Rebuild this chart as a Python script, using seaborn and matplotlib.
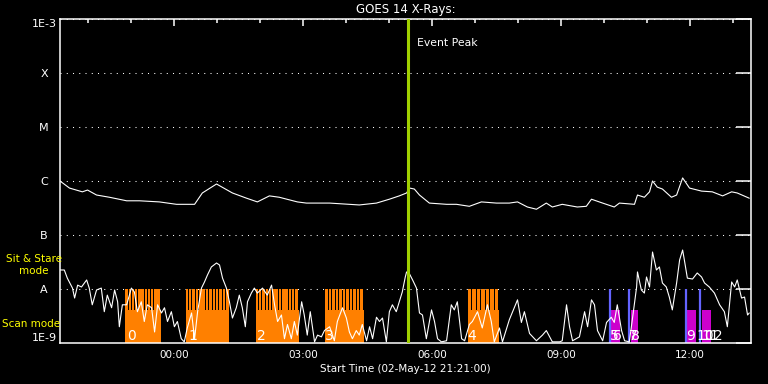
import numpy as np
import pandas as pd
import matplotlib
matplotlib.use("Agg")
import matplotlib.pyplot as plt
from matplotlib.ticker import FixedLocator, NullLocator
import seaborn as sns

# hours relative to 00:00 on 03-May-12 (window starts 21:21 the day before)
t_start = -2.65
t_end = 13.42

# GOES 14 long-channel flux (upper trace), W/m^2
goes_t = [-2.65, -2.43, -2.13, -2.01, -1.80, -1.50, -1.10, -0.80, -0.34, 0.06,
          0.48, 0.66, 0.99, 1.36, 1.69, 1.94, 2.22, 2.45, 2.87, 3.08,
          3.62, 4.31, 4.71, 5.01, 5.24, 5.41, 5.48, 5.59, 5.71, 5.94,
          6.34, 6.57, 6.87, 7.15, 7.50, 7.80, 7.99, 8.22, 8.43, 8.66,
          8.80, 9.03, 9.38, 9.59, 9.71, 9.97, 10.24, 10.36, 10.71, 10.78,
          10.94, 11.06, 11.13, 11.24, 11.36, 11.57, 11.69, 11.83, 11.99, 12.27,
          12.52, 12.76, 12.97, 13.10, 13.38]
goes_flux_e7 = [10.0, 7.4, 6.3, 6.8, 5.5, 5.0, 4.3, 4.3, 4.1, 3.7,
                3.7, 6.0, 8.8, 6.0, 4.8, 4.1, 5.3, 5.0, 4.1, 3.9,
                3.9, 3.6, 3.9, 4.6, 5.3, 6.0, 7.4, 7.1, 5.5, 3.9,
                3.7, 3.7, 3.4, 4.1, 3.9, 3.9, 4.1, 3.3, 3.0, 3.9,
                3.3, 3.7, 3.3, 3.4, 4.6, 3.9, 3.3, 3.9, 3.7, 5.5,
                5.0, 6.3, 10.0, 7.7, 7.1, 5.0, 5.5, 11.4, 7.4, 6.5,
                6.3, 5.3, 6.3, 6.0, 4.8]

# lower (scaled) trace
low_t = [-2.65, -2.55, -2.48, -2.36, -2.31, -2.24, -2.15, -2.03, -1.97, -1.90,
         -1.80, -1.69, -1.62, -1.55, -1.45, -1.38, -1.31, -1.27, -1.20, -1.10,
         -0.99, -0.92, -0.85, -0.76, -0.69, -0.62, -0.52, -0.45, -0.38, -0.29,
         -0.22, -0.15, -0.06, 0.01, 0.08, 0.17, 0.24, 0.31, 0.41, 0.48,
         0.55, 0.64, 0.71, 0.78, 0.87, 0.99, 1.06, 1.13, 1.22, 1.29,
         1.36, 1.45, 1.52, 1.59, 1.66, 1.71, 1.80, 1.87, 1.94, 2.06,
         2.17, 2.27, 2.34, 2.41, 2.50, 2.57, 2.64, 2.73, 2.80, 2.87,
         2.97, 3.03, 3.10, 3.17, 3.27, 3.34, 3.43, 3.50, 3.62, 3.73,
         3.80, 3.92, 4.01, 4.08, 4.15, 4.24, 4.31, 4.38, 4.48, 4.55,
         4.62, 4.71, 4.78, 4.85, 4.94, 5.01, 5.08, 5.17, 5.24, 5.31,
         5.38, 5.41, 5.48, 5.55, 5.64, 5.71, 5.78, 5.87, 5.99, 6.06,
         6.13, 6.22, 6.34, 6.45, 6.52, 6.59, 6.69, 6.76, 6.87, 6.94,
         7.06, 7.17, 7.29, 7.38, 7.45, 7.57, 7.64, 7.80, 7.92, 7.99,
         8.08, 8.15, 8.27, 8.43, 8.57, 8.66, 8.80, 8.97, 9.03, 9.13,
         9.20, 9.27, 9.43, 9.55, 9.62, 9.71, 9.78, 9.85, 9.97, 10.06,
         10.17, 10.24, 10.31, 10.41, 10.48, 10.59, 10.66, 10.76, 10.78, 10.87,
         10.94, 10.99, 11.06, 11.13, 11.22, 11.29, 11.36, 11.45, 11.52, 11.59,
         11.69, 11.76, 11.83, 11.87, 11.94, 12.06, 12.17, 12.27, 12.34, 12.45,
         12.57, 12.69, 12.80, 12.87, 12.97, 13.04, 13.10, 13.20, 13.27, 13.34,
         13.38]
low_flux_e9 = [22.5, 22.5, 15.9, 10.4, 6.8, 11.8, 10.9, 14.7, 10.4, 5.1,
               9.6, 10.4, 3.8, 7.7, 4.5, 9.6, 5.8, 2.0, 5.1, 5.1,
               10.4, 8.8, 3.8, 5.8, 2.5, 5.1, 4.5, 1.6, 5.1, 3.6,
               4.5, 2.5, 3.8, 2.0, 2.5, 1.2, 1.05, 1.9, 3.6, 1.2,
               3.8, 10.4, 13.5, 18.2, 25.6, 30.3, 27.8, 15.9, 10.4, 5.8,
               2.9, 4.5, 7.7, 4.5, 2.0, 5.8, 8.4, 10.4, 8.4, 10.4,
               7.7, 11.8, 5.1, 2.5, 3.3, 1.2, 2.2, 1.2, 2.5, 1.4,
               5.8, 3.3, 1.4, 3.8, 1.05, 1.4, 1.3, 1.7, 2.0, 1.1,
               2.5, 4.5, 2.9, 1.6, 1.2, 1.7, 1.4, 2.2, 1.1, 2.0,
               1.2, 3.0, 2.5, 2.9, 1.05, 3.8, 5.1, 3.8, 5.8, 8.8,
               16.7, 20.7, 18.9, 14.7, 10.4, 3.6, 3.3, 1.2, 4.1, 2.5,
               1.2, 1.05, 1.1, 5.1, 4.1, 5.8, 1.2, 1.1, 2.2, 2.5,
               3.8, 1.9, 5.1, 2.5, 1.05, 1.9, 1.05, 2.7, 4.6, 6.3,
               2.4, 3.8, 1.5, 1.1, 1.4, 1.7, 1.05, 1.05, 1.1, 5.1,
               2.0, 1.1, 1.3, 3.8, 2.0, 6.3, 5.1, 1.7, 1.1, 2.4,
               3.0, 2.4, 5.1, 1.7, 1.1, 1.05, 2.7, 10.9, 20.7, 9.6,
               8.4, 16.7, 10.9, 48.4, 22.5, 25.6, 12.9, 10.9, 7.1, 4.1,
               12.9, 34.5, 52.7, 34.5, 15.9, 15.3, 19.8, 16.7, 12.9, 10.9,
               8.4, 5.1, 3.8, 2.0, 13.5, 10.9, 14.7, 6.8, 7.1, 3.3,
               3.6]

# scan mode rasters (orange) and sit & stare (magenta)
scan_start = [-1.13, 0.27, 1.90, 3.52, 6.83]
scan_end = [-0.31, 1.29, 2.90, 4.41, 7.57]
scan_steps = [11, 13, 13, 11, 7]
stare_start = [10.17, 10.62, 11.92, 12.27]
stare_end = [10.38, 10.80, 12.13, 12.48]
stare_mark = [10.15, 10.59, 11.90, 12.24]

obs_labels = ['0', '1', '2', '3', '4', '5', '6', '7', '8', '9', '10', '11', '12']
obs_label_t = [-1.10, 0.34, 1.92, 3.52, 6.83, 10.15, 10.20, 10.59, 10.64,
               11.90, 12.14, 12.27, 12.36]

event_t = 5.45

level_vals = [1e-9, 1e-8, 1e-7, 1e-6, 1e-5, 1e-4, 1e-3]
level_labels = ['1E-9', 'A', 'B', 'C', 'M', 'X', '1E-3']

major_hours = [0, 3, 6, 9, 12]
minor_hours = [-2, -1, 1, 2, 4, 5, 7, 8, 10, 11, 13]

sns.set_style("dark", {"axes.facecolor": "black", "figure.facecolor": "black",
                       "axes.edgecolor": "white", "text.color": "white",
                       "axes.labelcolor": "white", "xtick.color": "white",
                       "ytick.color": "white", "axes.grid": False})
plt.rcParams["font.family"] = ["DejaVu Sans"]

fig = plt.figure(figsize=(7.68, 3.84), dpi=100)
ax = fig.add_axes([60 / 768, 41 / 384, 691 / 768, 324 / 384])

goes_df = pd.DataFrame({"t": goes_t, "flux": np.array(goes_flux_e7) * 1e-7})
low_df = pd.DataFrame({"t": low_t, "flux": np.array(low_flux_e9) * 1e-9})

orange = "#ff8000"
solid_top = 4.1e-9
stripe_top = 1e-8

# scan blocks: solid base plus one tall stripe per raster step
for s, e, n in zip(scan_start, scan_end, scan_steps):
    ax.bar(s, solid_top - 1e-9, width=e - s, bottom=1e-9, align='edge',
           color=orange, linewidth=0, zorder=2)
    step = (e - s) / n
    lefts = s + step * np.arange(n)
    ax.bar(lefts, stripe_top - 1e-9, width=step * 0.74, bottom=1e-9,
           align='edge', color=orange, linewidth=0, zorder=2)

ax.bar(stare_start, solid_top - 1e-9,
       width=np.array(stare_end) - np.array(stare_start), bottom=1e-9,
       align='edge', color="#cc00cc", linewidth=0, zorder=2)
ax.vlines(stare_mark, 1e-9, 1e-8, color="#6464ff", lw=1.6, zorder=2)

sns.lineplot(data=low_df, x="t", y="flux", ax=ax, color="white", lw=0.8,
             estimator=None, sort=False, zorder=4)
sns.lineplot(data=goes_df, x="t", y="flux", ax=ax, color="white", lw=0.8,
             estimator=None, sort=False, zorder=4)

for lab, t in zip(obs_labels, obs_label_t):
    ax.text(t, 1.15e-9, lab, color="white", fontsize=10, ha='left',
            va='baseline', zorder=5)

ax.axvline(event_t, color="#a0d000", lw=2.2, zorder=6)
ax.annotate("Event Peak", (event_t, 3.6e-4), xytext=(6.5, 0),
            textcoords='offset points', color="white", fontsize=7.8,
            va='center', ha='left')

ax.set_yscale('log')
ax.set_ylim(1e-9, 1e-3)
ax.set_xlim(t_start, t_end)

ax.yaxis.set_major_locator(FixedLocator(level_vals))
ax.yaxis.set_minor_locator(NullLocator())
ax.set_yticklabels(level_labels)
for lab in ax.get_yticklabels():
    lab.set_ha('center')
    lab.set_fontsize(8)
    if lab.get_text() == '1E-3':
        lab.set_va('top')
    elif lab.get_text() == '1E-9':
        lab.set_va('bottom')

ax.xaxis.set_major_locator(FixedLocator(major_hours))
ax.xaxis.set_minor_locator(FixedLocator(minor_hours))
ax.set_xticklabels([f"{h % 24:02d}:00" for h in major_hours], fontsize=7.5)

ax.tick_params(axis='both', which='both', direction='in', top=True,
               right=True, colors='white', width=1.1)
ax.tick_params(axis='y', which='major', length=10.8, pad=11.5)
ax.tick_params(axis='x', which='major', length=5, pad=5)
ax.tick_params(axis='x', which='minor', length=3)

ax.grid(axis='y', which='major', color='white', lw=0.75,
        linestyle=(0, (1, 5)), zorder=1)
ax.set_axisbelow(True)

for sp in ax.spines.values():
    sp.set_color('white')
    sp.set_linewidth(1.1)

ax.set_xlabel("Start Time (02-May-12 21:21:00)", fontsize=7.5, labelpad=3)
ax.set_ylabel("")
ax.set_title("GOES 14 X-Rays:", fontsize=8.5, color="white", pad=4)

fig.text(34 / 768, 1 - 265 / 384, "Sit & Stare\nmode", color="yellow",
         fontsize=7.5, ha='center', va='center', linespacing=1.15)
fig.text(2 / 768, 1 - 324 / 384, "Scan mode", color="yellow",
         fontsize=7.5, ha='left', va='center')

fig.savefig("out.png", dpi=100, facecolor="black")
